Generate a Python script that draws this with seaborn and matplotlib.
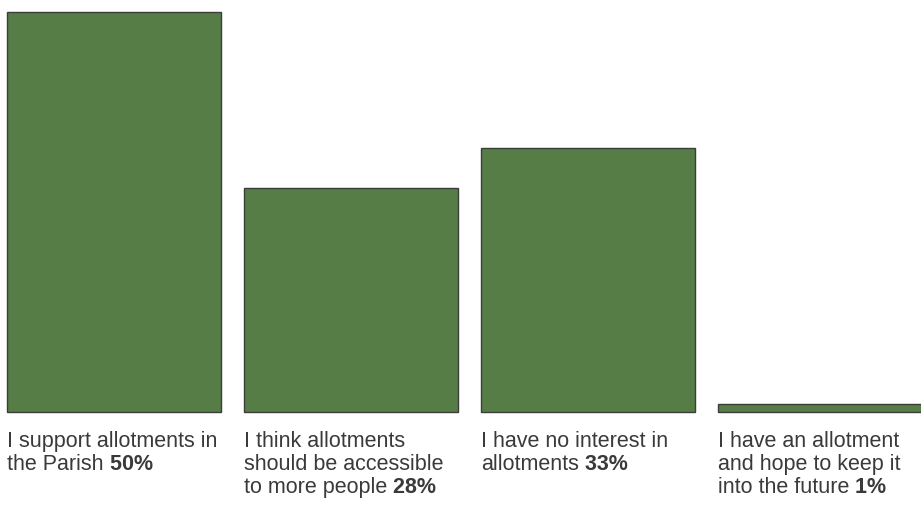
import matplotlib
matplotlib.use("Agg")
import matplotlib.pyplot as plt
import seaborn as sns
import pandas as pd

# data
labels = ["I support allotments in\nthe Parish",
          "I think allotments\nshould be accessible\nto more people",
          "I have no interest in\nallotments",
          "I have an allotment\nand hope to keep it\ninto the future"]
values = [50, 28, 33, 1]
pct_labels = ["50%", "28%", "33%", "1%"]

df = pd.DataFrame({"cat": [str(i) for i in range(len(values))], "val": values})

sns.set_style("white")
plt.rcParams["font.family"] = ["Liberation Sans", "DejaVu Sans"]

W, H = 921, 506
fig = plt.figure(figsize=(W / 100, H / 100), dpi=100)
# axes: x covers full width, y from 413px (0) to 13px (50)
ax = fig.add_axes([0, (H - 413) / H, 1, 400 / H])

bar_w = 214 / 237
sns.barplot(data=df, x="cat", y="val", color="#577d46", width=bar_w,
            edgecolor="#3c3c3c", linewidth=1.0, saturation=1, ax=ax)

ax.set_xlim(-114 / 237, (921 - 114) / 237)
ax.set_ylim(0, 50)
ax.axis("off")
for p in ax.patches:
    p.set_clip_on(False)

txt_color = "#3a3a3a"
fs = 15.5
px_per_unit = 400 / 50
first_base = 447 - 413   # px below the baseline of the bars
line_step = 23
for i, (lab, pct) in enumerate(zip(labels, pct_labels)):
    lines = lab.split("\n")
    x0 = i - bar_w / 2
    t = None
    for k, line in enumerate(lines):
        y = -(first_base + k * line_step) / px_per_unit
        t = ax.text(x0, y, line, ha="left", va="baseline", fontsize=fs,
                    color=txt_color)
    ax.annotate(" " + pct, xy=(1, 0), xycoords=t, ha="left", va="bottom",
                fontsize=fs, fontweight="bold", color=txt_color)

fig.savefig("out.png", dpi=100)
